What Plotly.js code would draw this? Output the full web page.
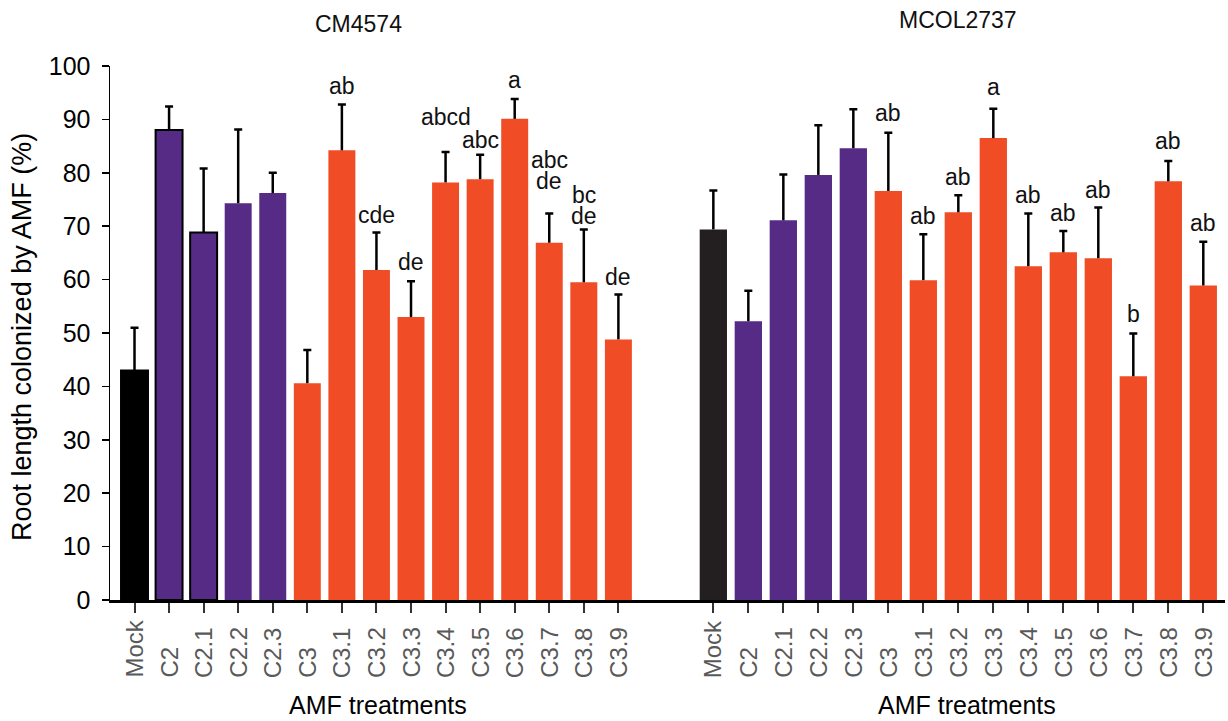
<!DOCTYPE html>
<html>
<head>
<meta charset="utf-8">
<script src="https://cdn.plot.ly/plotly-3.0.1.min.js"></script>
<style>html,body{margin:0;padding:0;background:#fff;}#chart{width:1228px;height:721px;}</style>
</head>
<body>
<div id="chart"></div>
<script>
// ---- data ----
const categories = ["Mock","C2","C2.1","C2.2","C2.3","C3","C3.1","C3.2","C3.3","C3.4","C3.5","C3.6","C3.7","C3.8","C3.9"];

const panel1Title = "CM4574";
const means1 = [43.0, 88.0, 68.8, 74.3, 76.2, 40.6, 84.2, 61.8, 53.0, 78.2, 78.8, 90.1, 66.9, 59.5, 48.8];
const errs1  = [8.0, 4.4, 12.0, 13.8, 3.8, 6.2, 8.6, 7.0, 6.7, 5.7, 4.6, 3.7, 5.5, 9.9, 8.4];
const letters1 = ["", "", "", "", "", "", "ab", "cde", "de", "abcd", "abc", "a", "abc\nde", "bc\nde", "de"];

const panel2Title = "MCOL2737";
const means2 = [69.4, 52.2, 71.1, 79.6, 84.6, 76.6, 59.9, 72.6, 86.5, 62.5, 65.1, 64.0, 41.9, 78.4, 58.9];
const errs2  = [7.3, 5.7, 8.6, 9.3, 7.3, 10.9, 8.6, 3.2, 5.5, 9.9, 4.0, 9.5, 8.0, 3.8, 8.2];
const letters2 = ["", "", "", "", "", "ab", "ab", "ab", "a", "ab", "ab", "ab", "b", "ab", "ab"];

const xTitle = "AMF treatments";
const yTitle = "Root length colonized by AMF (%)";
const yTicks = [0,10,20,30,40,50,60,70,80,90,100];

// ---- styling (not data) ----
const FONT = "Liberation Sans, Arial, Helvetica, sans-serif";
const colMock1 = "#000000", colMock2 = "#231f20", colPurple = "#552b85", colOrange = "#f04c25";
// label lift above error-bar top (px), per panel
const lift1 = [18,18,18,18,18,18,18,18,19,35,15,19,32,13,18];
const lift2 = [18,18,18,18,18,20,18,18,22,18,18,18,20,20,19];
const outline1 = [2,2,2,0,0,0,0,0,0,0,0,0,0,0,0];

function colorFor(cat, mockCol){
  if (cat === "Mock") return mockCol;
  if (cat.startsWith("C2")) return colPurple;
  return colOrange;
}
const idx = categories.map((c,i)=>i);

function barTrace(means, errs, xa, ya, mockCol, outline){
  return {
    type: "bar", x: idx, y: means, xaxis: xa, yaxis: ya,
    marker: {
      color: categories.map(c=>colorFor(c, mockCol)),
      line: {color: "#000", width: outline || categories.map(()=>0)}
    },
    // stems only (no caps); the top caps come from capTrace
    error_y: {type: "data", symmetric: false, array: errs, arrayminus: errs.map(()=>0),
              color: "#000", thickness: 2.5, width: 0},
    hoverinfo: "skip"
  };
}
function capTrace(means, errs, xa, ya){
  return {
    type: "scatter", mode: "markers", x: idx, y: means.map((m,i)=>m+errs[i]),
    xaxis: xa, yaxis: ya, marker: {size: 1, opacity: 0},
    error_y: {type: "data", symmetric: true, array: errs.map(()=>0),
              color: "#000", thickness: 2.5, width: 4},
    hoverinfo: "skip"
  };
}

const data = [
  barTrace(means1, errs1, "x", "y", colMock1, outline1),
  barTrace(means2, errs2, "x2", "y2", colMock2, null),
  capTrace(means1, errs1, "x", "y"),
  capTrace(means2, errs2, "x2", "y2")
];

const annotations = [];
function addPanelAnnots(means, errs, letters, lifts, xref, yref){
  categories.forEach((c,i)=>{
    // rotated category label, bottom-aligned
    annotations.push({
      xref: xref, yref: "paper", x: i, y: -0.1498, text: c, textangle: -90,
      showarrow: false, xanchor: "center", yanchor: "bottom",
      font: {family: FONT, size: 24, color: "#595959"}
    });
    const lines = letters[i] ? letters[i].split("\n") : [];
    lines.reverse().forEach((ln, k)=>{
      annotations.push({
        xref: xref, yref: yref, x: i, y: means[i] + errs[i], text: ln,
        showarrow: false, xanchor: "center", yanchor: "middle",
        yshift: lifts[i] + k*21.7,
        font: {family: FONT, size: 23, color: "#111"}
      });
    });
  });
}
addPanelAnnots(means1, errs1, letters1, lift1, "x", "y");
addPanelAnnots(means2, errs2, letters2, lift2, "x2", "y2");

annotations.push({xref:"x", yref:"paper", x:7.05, y:-0.196, text:xTitle, showarrow:false,
  xanchor:"center", yanchor:"middle", font:{family:FONT, size:25, color:"#000"}});
annotations.push({xref:"x2", yref:"paper", x:7.25, y:-0.196, text:xTitle, showarrow:false,
  xanchor:"center", yanchor:"middle", font:{family:FONT, size:25, color:"#000"}});
annotations.push({xref:"paper", yref:"paper", x:0.2233, y:1.0787, text:panel1Title, showarrow:false,
  xanchor:"center", yanchor:"middle", font:{family:FONT, size:23, color:"#111"}});
annotations.push({xref:"paper", yref:"paper", x:0.7605, y:1.086, text:panel2Title, showarrow:false,
  xanchor:"center", yanchor:"middle", font:{family:FONT, size:23, color:"#111"}});
annotations.push({xref:"paper", yref:"paper", x:-0.0789, y:0.4925, text:yTitle, showarrow:false,
  textangle:-90, xanchor:"center", yanchor:"middle", font:{family:FONT, size:27, color:"#000"}});

const xBase = {
  type: "linear", tickmode: "array", tickvals: idx, showticklabels: false,
  ticks: "outside", ticklen: 10, tickwidth: 2, tickcolor: "#333",
  showline: true, linewidth: 2.5, linecolor: "#000",
  showgrid: false, zeroline: false, fixedrange: true
};

const layout = {
  width: 1228, height: 721,
  margin: {l: 110, r: 3, t: 66, b: 121, pad: 0},
  paper_bgcolor: "#fff", plot_bgcolor: "#fff",
  showlegend: false, bargap: 0.22,
  font: {family: FONT, color: "#000"},
  xaxis: Object.assign({}, xBase, {domain: [0, 0.4978], range: [-0.709, 15.35], anchor: "y"}),
  xaxis2: Object.assign({}, xBase, {domain: [0.4978, 1], range: [-1.38, 14.62], anchor: "y2"}),
  yaxis: {
    range: [0, 100], tickmode: "array", tickvals: yTicks, ticks: "outside", ticklen: 7,
    tickwidth: 1.5, tickcolor: "#000", showline: true, linewidth: 1.5, linecolor: "#000",
    showgrid: false, zeroline: false, anchor: "x", ticklabelstandoff: 6,
    tickfont: {family: FONT, size: 25, color: "#000"}, fixedrange: true
  },
  yaxis2: {range: [0, 100], anchor: "x2", visible: false, showgrid: false, zeroline: false, fixedrange: true},
  annotations: annotations
};

Plotly.newPlot("chart", data, layout, {displayModeBar: false, staticPlot: true});
</script>
</body>
</html>
